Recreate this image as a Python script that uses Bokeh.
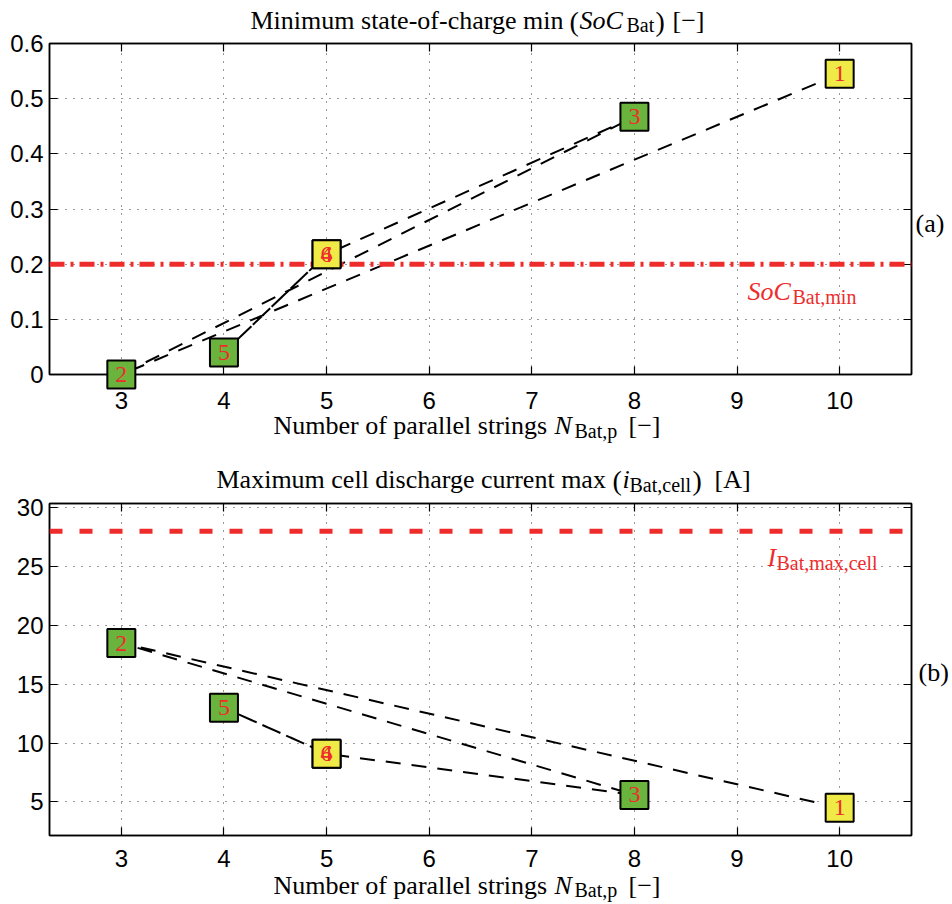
from bokeh.plotting import figure
from bokeh.models import LinearAxis, FixedTicker, Span, Range1d, PrintfTickFormatter
from bokeh.layouts import column
from bokeh.embed import file_html
from bokeh.resources import INLINE
from bokeh.core.properties import value

# ---------------- data ----------------
n_strings = [10, 3, 8, 5, 4, 5]
soc_min = [0.545, 0.0, 0.467, 0.218, 0.040, 0.218]
i_cell_max = [4.5, 18.5, 5.6, 9.1, 13.0, 9.1]
point_ids = ["1", "2", "3", "4", "5", "6"]
point_colors = ["#F0EA46", "#6AB43E", "#6AB43E", "#F0EA46", "#6AB43E", "#F0EA46"]
x_ticks = [3, 4, 5, 6, 7, 8, 9, 10]
soc_ticks = [0, 0.1, 0.2, 0.3, 0.4, 0.5, 0.6]
i_ticks = [5, 10, 15, 20, 25, 30]
soc_limit = 0.2
i_limit = 28

RED = "#EE2C2C"
SERIF = "Liberation Serif"
SANS = "Liberation Sans"
X_RANGE = (2.3, 10.7)
W = 952
BL, BR = 49, 41          # left / right borders -> frame 49..911
BASE_FIX = 8             # rendered alphabetic baseline sits this much lower


def make_panel(yvals, yticks, yrange, height, btop, bbottom, limit, limit_dash, xstandoff):
    p = figure(width=W, height=height, x_range=Range1d(*X_RANGE), y_range=Range1d(*yrange),
               output_backend="svg", toolbar_location=None,
               min_border_left=BL, min_border_right=BR, min_border_top=btop, min_border_bottom=bbottom)
    p.outline_line_color = "black"
    p.outline_line_width = 1.5
    for ax in (p.xaxis[0], p.yaxis[0]):
        ax.major_tick_in = 8
        ax.major_tick_out = 0
        ax.minor_tick_line_color = None
        ax.axis_line_width = 1.5
        ax.major_tick_line_width = 1.2
        ax.major_label_text_font = SANS
        ax.major_label_text_font_size = "24px"
        ax.major_label_text_color = "black"
    p.xaxis[0].ticker = FixedTicker(ticks=x_ticks)
    p.xaxis[0].major_label_standoff = xstandoff
    p.yaxis[0].ticker = FixedTicker(ticks=yticks)
    p.yaxis[0].major_label_standoff = 6
    p.yaxis[0].formatter = PrintfTickFormatter(format="%g")
    for loc, tk in (("right", yticks), ("above", x_ticks)):
        ax = LinearAxis(ticker=FixedTicker(ticks=tk), major_tick_in=8, major_tick_out=0,
                        minor_tick_line_color=None, major_label_text_color=None,
                        major_label_standoff=0, axis_line_width=1.5, major_tick_line_width=1.2)
        p.add_layout(ax, loc)
    p.xgrid.ticker = FixedTicker(ticks=x_ticks)
    p.ygrid.ticker = FixedTicker(ticks=yticks)
    for g in (p.xgrid[0], p.ygrid[0]):
        g.grid_line_color = "#333333"
        g.grid_line_dash = "1 7"
        g.grid_line_width = 1
    p.add_layout(Span(location=limit, dimension="width", line_color=RED, line_width=5,
                      line_dash=limit_dash))
    p.line(n_strings, yvals, line_color="black", line_width=2, line_dash="15 11")
    p.scatter(n_strings, yvals, marker="square", size=28, fill_color=point_colors,
              line_color="black", line_width=2, level="overlay")
    p.text(n_strings, yvals, text=point_ids, text_font=value(SERIF), text_font_size="24px",
           text_color=RED, text_align="center", text_baseline="middle", level="overlay")
    # geometry of the frame in canvas pixels, used to place the free texts
    p.tags = [btop, height - bbottom, yrange]
    return p


def put(p, x, base, text, size=26, style="normal", color="black"):
    """Place a text piece at canvas pixel (x, baseline), outside or inside the frame."""
    ftop, fbottom, (y0, y1) = p.tags
    fl, fr = BL, W - BR
    base = base - BASE_FIX
    xd = X_RANGE[0] + (x - fl) / (fr - fl) * (X_RANGE[1] - X_RANGE[0])
    yd = y0 + (fbottom - base) / (fbottom - ftop) * (y1 - y0)
    p.text([xd], [yd], text=[text], text_font=value(SERIF), text_font_size=f"{size}px",
           text_font_style=style, text_color=color, text_align="left",
           text_baseline="alphabetic", level="overlay")


# ---------- panel (a) ----------
p1 = make_panel(soc_min, soc_ticks, (0, 0.6), 463, 43, 89, soc_limit, "15 6 3 6", 17)
put(p1, 250, 28, "Minimum state-of-charge min")
put(p1, 569, 29, "(", size=28)
put(p1, 579, 28, "SoC", style="italic")
put(p1, 626, 32, "Bat", size=20)
put(p1, 655, 29, ")", size=28)
put(p1, 672, 28, "[\u2212]")
put(p1, 273, 433, "Number of parallel strings")
put(p1, 554, 433, "N", style="italic")
put(p1, 574, 438, "Bat,p", size=20)
put(p1, 628, 433, "[\u2212]")
put(p1, 915, 231, "(a)")
put(p1, 747, 299, "SoC", style="italic", color=RED)
put(p1, 792, 304, "Bat,min", size=20, color=RED)

# ---------- panel (b) ---------- (canvas starts at page y = 463)
p2 = make_panel(i_cell_max, i_ticks, (2.15, 30.35), 441, 40, 69, i_limit, "13 17", 14)
put(p2, 216, 487 - 463, "Maximum cell discharge current max")
put(p2, 612, 488 - 463, "(", size=28)
put(p2, 622, 487 - 463, "i", style="italic")
put(p2, 629, 492 - 463, "Bat,cell", size=20)
put(p2, 692, 488 - 463, ")", size=28)
put(p2, 714, 487 - 463, "[A]")
put(p2, 273, 893 - 463, "Number of parallel strings")
put(p2, 554, 893 - 463, "N", style="italic")
put(p2, 574, 897 - 463, "Bat,p", size=20)
put(p2, 628, 893 - 463, "[\u2212]")
put(p2, 918, 680 - 463, "(b)")
put(p2, 767, 565 - 463, "I", style="italic", color=RED)
put(p2, 776, 570 - 463, "Bat,max,cell", size=20, color=RED)

layout = column(p1, p2)
open("out.html", "w").write(file_html(layout, INLINE))
